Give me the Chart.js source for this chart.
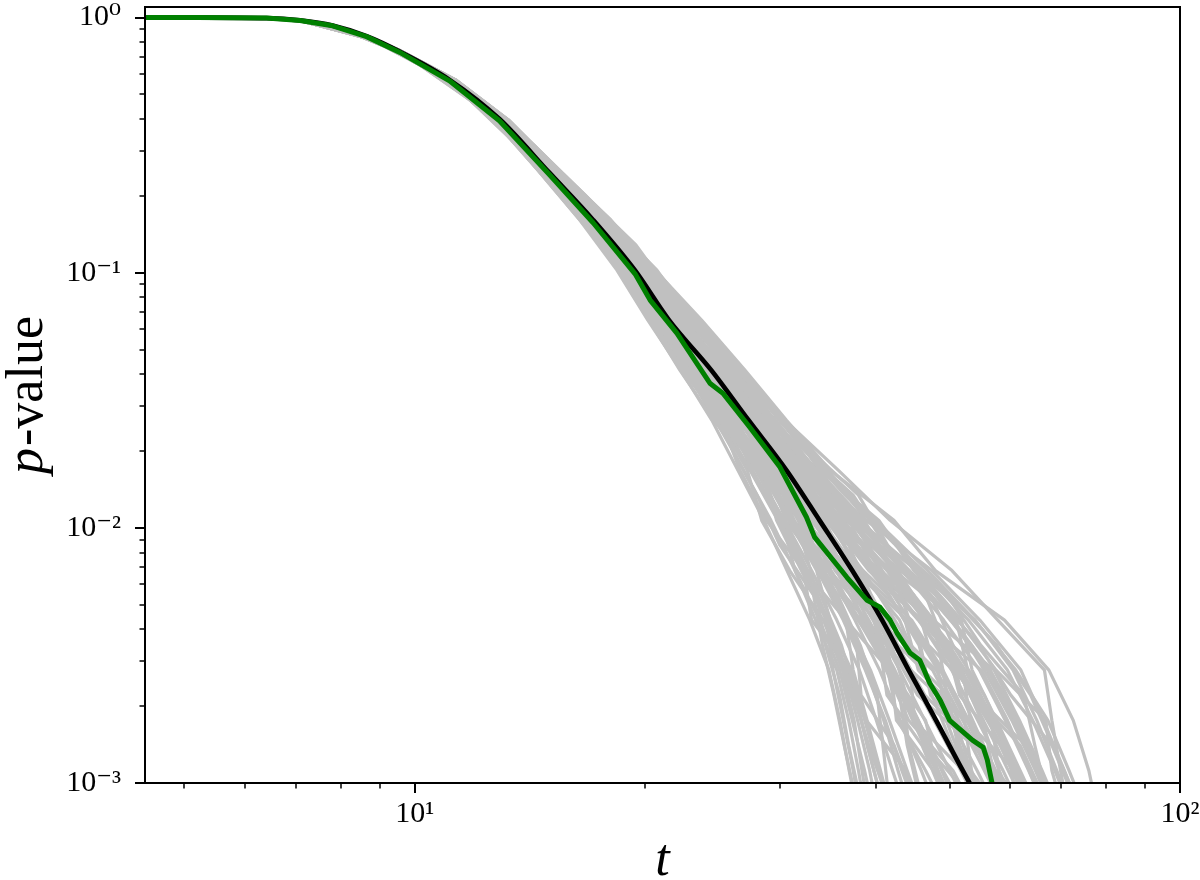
<!DOCTYPE html>
<html>
<head>
<meta charset="utf-8">
<script src="https://cdn.jsdelivr.net/npm/chart.js@4.4.1/dist/chart.umd.min.js"></script>
<style>
html,body{margin:0;padding:0;background:#fff;}
#wrap{width:1200px;height:880px;position:relative;}
</style>
</head>
<body>
<div id="wrap"><canvas id="c"></canvas></div>
<script>
// ---- axis ticks & labels ----
const xMajorTicks = [10, 100];
const xTickLabels = ['10\u00B9', '10\u00B2'];
const xMinorTicks = [5, 6, 7, 8, 9, 20, 30, 40, 50, 60, 70, 80, 90];
const yMajorTicks = [0.001, 0.01, 0.1, 1];
const yTickLabels = ['10\u207B\u00B3', '10\u207B\u00B2', '10\u207B\u00B9', '10\u2070'];
const yMinorTicks = [0.002,0.003,0.004,0.005,0.006,0.007,0.008,0.009,
                     0.02,0.03,0.04,0.05,0.06,0.07,0.08,0.09,
                     0.2,0.3,0.4,0.5,0.6,0.7,0.8,0.9];
const xTitle = 't';
const yTitleItalic = 'p';
const yTitleRest = '-value';

// ---- theoretical curve (black) ----
const blackT = [4.4, 5.2, 6.4, 7.08, 7.81, 8.65, 9.56, 11.1, 12.9, 15.0, 17.1, 19.4, 21.5, 24.4, 27.3, 30.6, 33.8, 37.3, 40.8, 44.2, 48.0, 52.0, 54.6];
const blackP = [1.0, 0.9995, 0.995, 0.975, 0.93, 0.845, 0.735, 0.57, 0.40, 0.246, 0.161, 0.102, 0.065, 0.0415, 0.0264, 0.0168, 0.0107, 0.0068, 0.00435, 0.00277, 0.00176, 0.00112, 0.00086];

// ---- highlighted realisation (green) ----
const greenT = [4.4, 5.2, 6.4, 7.08, 7.81, 8.65, 9.56, 11.1, 12.9, 15.0, 17.1, 19.4, 20.3, 22.0, 24.3, 25.27, 27.4, 30.0, 32.5, 33.3, 36.7, 39.0, 40.5, 41.8, 42.7, 44.4, 45.7, 47.1, 48.6, 50.0, 53.6, 55.3, 56.0, 56.8, 57.2];
const greenP = [1.0, 0.9995, 0.995, 0.974, 0.928, 0.842, 0.73, 0.565, 0.394, 0.242, 0.157, 0.099, 0.0781, 0.058, 0.0369, 0.0337, 0.0248, 0.0173, 0.0110, 0.0092, 0.0064, 0.0052, 0.0049, 0.00435, 0.00386, 0.00323, 0.00303, 0.00246, 0.00211, 0.00176, 0.00147, 0.00138, 0.00123, 0.001, 0.00085];

// ---- simulated realisations (grey), group A: p-levels shared, t per run ----
const grayLevelsA = [1.0, 0.995, 0.975, 0.895, 0.747, 0.57, 0.397, 0.2525, 0.161, 0.1024, 0.0652, 0.0415, 0.0264, 0.0168, 0.0107, 0.0068, 0.00435, 0.00277, 0.00176, 0.00112, 0.00085];
const grayRunsA = [
 [4.4,6.4,7.08, 8.08,9.37,10.98,12.68,14.48, 16.43,18.37,20.16,22.27,24.45,26.44,28.59,30.65,32.83,34.77,35.93,36.95,37.62],
 [4.4,6.4,7.08, 8.08,9.38,10.99,12.70,14.52, 16.60,18.45,20.50,22.35,25.13,26.6,28.8,32.22,33.0,37.0,38.72,40.4,41.48],
 [4.4,6.4,7.08, 8.11,9.41,11.04,12.80,14.68, 16.76,18.62,20.55,22.78,25.2,27.43,29.82,32.4,34.71,37.2,38.9,43.86,45.34],
 [4.4,6.4,7.08, 8.08,9.37,10.98,12.68,14.50, 16.48,18.66,20.84,22.85,25.81,28.42,30.0,32.3,36.59,37.4,39.0,40.6,41.6],
 [4.4,6.4,7.08, 8.11,9.41,11.04,12.80,14.70, 16.92,18.87,20.9,23.30,25.13,28.5,31.06,33.80,36.7,39.4,41.7,44.0,45.5],
 [4.4,6.4,7.08, 8.11,9.42,11.05,12.82,14.70, 16.8,18.9,21.19,23.83,25.9,28.42,32.40,34.0,36.59,41.72,44.74,47.95,49.98],
 [4.4,6.4,7.08, 8.09,9.38,10.99,12.70,14.55, 16.62,18.84,20.8,23.9,26.53,29.48,31.2,35.53,38.68,41.9,42.6,47.6,49.6],
 [4.4,6.4,7.08, 8.12,9.43,11.06,12.84,14.74, 16.95,19.13,21.25,23.4,26.6,29.6,32.6,35.7,40.77,42.0,44.9,52.05,54.63],
 [4.4,6.4,7.08, 8.13,9.45,11.10,12.90,14.86, 17.05,19.1,21.15,24.3,26.45,30.4,32.3,37.1,38.9,44.0,47.7,51.8,54.4],
 [4.4,6.4,7.08, 8.12,9.43,11.07,12.86,14.78, 16.9,19.45,21.6,23.75,27.35,29.4,33.9,35.4,40.9,44.5,52.28,53.4,55.3],
 [4.4,6.4,7.08, 8.14,9.46,11.12,12.93,14.90, 17.12,19.35,22.03,24.45,27.15,30.7,33.6,37.45,44.01,48.29,49.5,52.4,55.0],
 [4.4,6.4,7.08, 8.15,9.48,11.18,13.04,15.05, 17.32,19.5,21.7,24.97,28.01,30.9,35.33,37.6,41.2,48.0,52.0,56.46,59.06],
 [4.4,6.4,7.08, 8.14,9.47,11.14,12.96,14.95, 17.15,19.71,22.1,25.05,27.5,31.54,35.5,39.65,43.7,45.5,52.6,56.8,59.5],
 [4.4,6.4,7.08, 8.15,9.49,11.20,13.08,15.12, 17.3,19.75,22.53,24.9,28.77,31.4,35.2,42.03,44.3,48.6,52.5,60.87,63.49],
 [4.4,6.4,7.08, 8.16,9.50,11.22,13.10,15.18, 17.56,19.68,21.98,25.57,28.1,32.54,36.93,39.9,47.25,52.35,56.6,58.0,59.8],
 [4.4,6.4,7.08, 8.15,9.49,11.21,13.09,15.15, 17.36,20.04,22.45,25.5,28.6,32.3,35.6,41.7,46.8,51.8,56.2,60.4,63.0],
 [4.4,6.4,7.08, 8.16,9.51,11.24,13.14,15.25, 17.6,20.1,23.05,25.65,29.57,32.7,37.1,42.3,51.0,52.8,57.0,61.3,64.0],
 [4.4,6.4,7.08, 8.17,9.52,11.28,13.20,15.35, 17.8,19.98,22.6,26.2,28.9,33.6,38.67,42.2,47.6,57.15,61.69,66.02,68.64],
 [4.4,6.4,7.08, 8.16,9.50,11.23,13.12,15.20, 17.52,20.38,22.95,26.1,29.4,33.4,38.3,44.3,50.5,56.5,61.2,65.5,68.0],
 [4.4,6.4,7.08, 8.18,9.53,11.31,13.26,15.43, 18.04,20.45,23.57,26.3,30.37,33.8,40.41,44.9,51.3,57.5,66.78,68.0,69.8],
 [4.4,6.4,7.08, 8.17,9.52,11.29,13.23,15.38, 17.85,20.72,23.1,26.83,30.2,34.66,38.9,47.41,54.75,61.95,66.3,70.6,73.2],
 [4.4,6.4,7.08, 8.18,9.53,11.30,13.25,15.40, 18.0,20.65,23.45,26.7,30.5,34.4,40.0,46.8,53.9,61.0,67.2,71.6,74.3],
 [4.4,6.4,7.08, 8.17,9.52,11.30,13.24,15.40, 17.75,20.6,23.7,27.0,30.6,34.9,42.28,47.9,58.97,67.4,72.53,76.0,77.5],
 [4.4,6.4,7.08, 8.16,9.50,11.22,13.12,15.20, 17.6,20.3,23.5,26.9,30.45,35.78,41.8,50.35,57.8,66.5,68.0,69.8,71.0],
 [4.4,6.4,7.08, 8.11,9.41,11.05,12.81,14.70, 16.78,19.18,21.48,25.1,28.2,32.4,36.6,44.0,50.2,56.0,60.8,65.0,67.6],
 [4.4,6.4,7.08, 8.15,9.49,11.20,13.07,15.12, 17.5,19.6,21.4,23.7,26.4,28.3,30.8,33.5,34.9,36.6,38.3,39.8,40.8],
 [4.4,6.4,7.08, 8.13,9.44,11.09,12.88,14.83, 17.0,19.28,21.1,23.95,25.7,28.6,29.7,32.0,34.5,35.2,36.3,37.4,38.0],
 [4.4,6.4,7.08, 8.14,9.46,11.13,12.95,14.92, 17.18,19.62,21.8,24.6,27.9,31.7,36.3,41.4,46.3,51.2,55.3,57.0,58.5],
 [4.4,6.4,7.08, 8.12,9.42,11.06,12.83,14.75, 16.88,19.05,21.35,24.2,27.0,29.3,32.1,33.6,36.3,38.8,41.2,43.3,44.8],
 [4.4,6.4,7.08, 8.15,9.49,11.21,13.10,15.16, 17.4,19.8,22.15,25.7,29.0,33.3,38.0,45.3,54.0,60.5,65.0,69.0,71.5],
 [4.4,6.4,7.08, 8.11,9.40,11.03,12.79,14.66, 16.85,18.8,20.7,22.6,25.0,27.2,28.4,30.9,34.2,36.2,37.5,38.4,39.0],
 [4.4,6.4,7.08, 8.15,9.48,11.19,13.06,15.10, 17.28,19.95,22.2,25.2,27.6,30.95,34.2,36.0,39.2,42.4,45.5,48.8,50.8],
 [4.4,6.4,7.08, 8.10,9.40,11.03,12.78,14.65, 16.72,18.95,20.6,23.2,25.65,29.2,32.0,36.8,40.3,47.5,51.4,55.5,58.0],
 [4.4,6.4,7.08, 8.17,9.51,11.27,13.20,15.33, 17.7,20.25,22.4,25.4,27.8,31.2,34.0,37.9,44.6,49.0,50.2,53.0,55.7],
 [4.4,6.4,7.08, 8.13,9.45,11.10,12.89,14.85, 17.02,19.0,20.95,23.5,26.7,29.8,33.3,36.5,38.4,41.3,44.2,50.5,53.0],
 [4.4,6.4,7.08, 8.16,9.50,11.22,13.11,15.18, 17.45,19.9,22.3,24.8,28.3,31.9,37.4,45.5,51.8,53.5,57.6,61.8,64.5],
 [4.4,6.4,7.08, 8.09,9.38,10.99,12.70,14.52, 16.55,18.55,20.25,22.2,24.6,27.6,30.2,31.4,33.4,35.6,36.9,38.0,38.6],
 [4.4,6.4,7.08, 8.15,9.48,11.19,13.05,15.10, 17.25,19.3,21.05,23.65,26.75,30.3,34.9,39.2,46.0,55.0,59.5,63.5,66.0],
 [4.4,6.4,7.08, 8.13,9.45,11.11,12.92,14.87, 17.07,19.42,21.6,23.9,26.6,30.3,33.9,35.8,40.5,44.4,45.0,48.3,50.3],
 [4.4,6.4,7.08, 8.15,9.49,11.20,13.08,15.14, 17.3,19.75,21.7,24.5,28.1,32.6,35.7,40.2,46.9,52.0,53.2,56.2,60.0],
 [4.4,6.4,7.08, 8.12,9.42,11.05,12.82,14.72, 16.9,19.1,21.2,23.85,25.95,29.55,31.3,34.1,38.9,41.9,46.5,48.2,50.0],
 [4.4,6.4,7.08, 8.16,9.50,11.23,13.12,15.18, 17.6,20.4,23.0,25.6,29.6,33.5,38.5,42.4,47.6,49.0,52.9,56.0,57.5]
];

// ---- simulated realisations (grey), group B: p-levels between those of group A ----
const grayLevelsB = [1.0, 0.995, 0.975, 0.818, 0.652, 0.476, 0.3167, 0.2017, 0.1284, 0.0818, 0.0521, 0.0331, 0.0211, 0.01343, 0.00855, 0.00545, 0.00347, 0.00221, 0.001406, 0.000895];
const grayRunsB = [
 [4.4,6.4,7.08, 8.79,10.15,11.80,13.59,15.43, 17.5,19.55,21.9,23.65,25.8,28.0,30.0,33.2,34.1,35.3,36.4,37.6],
 [4.4,6.4,7.08, 8.80,10.16,11.82,13.62,15.50, 17.68,19.72,22.0,24.2,26.5,29.7,31.4,33.9,36.1,37.7,39.0,40.6],
 [4.4,6.4,7.08, 8.82,10.20,11.89,13.73,15.69, 17.82,19.8,22.3,24.6,26.6,28.7,32.3,35.4,37.8,38.3,42.3,44.8],
 [4.4,6.4,7.08, 8.82,10.20,11.89,13.73,15.69, 17.9,19.95,22.55,24.75,27.1,30.7,33.7,36.0,40.0,43.0,44.0,45.6],
 [4.4,6.4,7.08, 8.82,10.21,11.90,13.75,15.72, 18.0,20.18,22.35,25.1,27.9,30.0,32.7,37.1,40.5,41.4,46.0,49.0],
 [4.4,6.4,7.08, 8.84,10.24,11.97,13.86,15.92, 18.1,20.4,22.7,25.35,28.8,31.1,34.1,39.0,40.6,43.6,46.7,49.8],
 [4.4,6.4,7.08, 8.84,10.24,11.98,13.88,15.95, 18.22,20.28,22.9,25.7,28.2,31.8,35.1,37.6,42.3,45.9,49.7,53.7],
 [4.4,6.4,7.08, 8.85,10.25,11.99,13.90,15.98, 18.3,20.52,23.0,26.4,29.0,32.1,36.9,39.5,42.8,49.8,51.2,54.5],
 [4.4,6.4,7.08, 8.87,10.30,12.10,14.09,16.32, 18.5,20.6,23.35,25.95,29.6,33.1,35.6,41.6,45.8,47.2,54.2,58.3],
 [4.4,6.4,7.08, 8.84,10.24,11.98,13.88,15.95, 18.18,20.8,23.5,26.6,29.85,32.3,37.3,42.2,46.5,50.9,55.0,59.2],
 [4.4,6.4,7.08, 8.87,10.30,12.10,14.09,16.32, 18.6,20.9,23.8,26.35,29.5,34.5,37.0,44.2,49.5,51.5,58.2,62.4],
 [4.4,6.4,7.08, 8.87,10.31,12.12,14.12,16.38, 18.78,20.95,23.6,27.0,30.3,33.5,38.7,44.9,46.9,54.3,59.0,63.3],
 [4.4,6.4,7.08, 8.87,10.30,12.11,14.10,16.35, 18.86,21.15,23.95,27.3,29.9,34.9,39.2,42.4,49.3,54.0,62.8,67.3],
 [4.4,6.4,7.08, 8.89,10.35,12.21,14.27,16.63, 19.05,21.3,24.3,27.4,31.1,35.9,39.4,47.0,53.4,59.0,63.0,67.6],
 [4.4,6.4,7.08, 8.89,10.36,12.22,14.28,16.66, 19.15,21.55,24.45,27.7,31.5,35.0,40.6,48.0,54.6,60.1,68.0,72.4],
 [4.4,6.4,7.08, 8.89,10.36,12.23,14.30,16.69, 19.3,21.9,24.6,28.4,31.9,36.5,42.5,50.0,57.6,63.8,68.2,72.9],
 [4.4,6.4,7.08, 8.88,10.35,12.22,14.28,16.65, 19.45,21.7,24.8,28.7,31.7,37.4,41.2,49.6,54.9,62.5,64.6,67.0],
 [4.4,6.4,7.08, 8.82,10.20,11.89,13.73,15.69, 17.88,20.25,22.85,25.9,29.7,33.4,37.2,44.3,49.9,54.9,58.9,62.5],
 [4.4,6.4,7.08, 8.87,10.30,12.10,14.09,16.32, 18.7,20.7,23.05,25.6,27.95,30.8,32.6,35.7,38.2,40.2,40.9,41.6],
 [4.4,6.4,7.08, 8.82,10.20,11.89,13.73,15.69, 17.98,20.05,22.2,24.05,27.35,29.95,31.0,33.5,34.4,35.9,36.9,38.1],
 [4.4,6.4,7.08, 8.87,10.30,12.11,14.10,16.34, 18.56,21.28,23.85,27.95,31.2,36.0,39.0,44.4,50.2,51.8,55.4,59.5],
 [4.4,6.4,7.08, 8.84,10.24,11.98,13.87,15.93, 18.24,20.44,22.65,25.3,28.15,31.7,35.5,39.4,40.9,43.5,44.2,45.9],
 [4.4,6.4,7.08, 8.83,10.22,11.93,13.80,15.80, 18.08,20.3,23.1,26.3,29.1,33.0,35.4,39.1,42.0,43.9,46.5,53.0],
 [4.4,6.4,7.08, 8.86,10.28,12.06,14.02,16.20, 18.45,20.75,23.3,26.55,30.6,34.6,40.5,47.2,50.5,55.5,59.4,61.0],
 [4.4,6.4,7.08, 8.80,10.16,11.82,13.62,15.48, 17.6,19.9,22.4,25.15,28.0,31.0,34.0,37.5,42.7,46.4,54.0,58.0],
 [4.4,6.4,7.08, 8.88,10.34,12.18,14.22,16.55, 19.0,21.85,24.7,27.6,30.4,34.4,37.0,41.7,45.6,47.4,50.4,54.8],
 [4.4,6.4,7.08, 8.84,10.24,11.98,13.88,15.94, 18.28,20.5,22.8,25.55,27.8,29.6,32.2,33.6,35.6,37.4,39.2,41.3],
 [4.4,6.4,7.08, 8.82,10.21,11.90,13.75,15.72, 18.02,20.15,22.5,25.75,29.2,32.4,37.6,42.6,49.0,53.6,61.8,66.2],
 [4.4,6.4,7.08, 8.85,10.26,12.01,13.93,16.03, 18.4,20.35,22.75,25.4,28.3,31.3,34.8,38.7,41.7,45.4,53.6,61.3],
 [4.4,6.4,7.08, 8.87,10.31,12.12,14.12,16.38, 18.9,21.45,24.2,28.0,32.3,38.0,41.5,46.5,49.3,53.2,57.5,61.8]
];

// ---- simulated realisations (grey), group C: same p-levels as group A ----
const grayRunsC = [
 [4.4,6.4,7.08, 8.08,9.38,10.99,12.69,14.50, 16.52,18.50,20.33,22.52,24.8,26.9,29.2,31.4,33.8,35.9,37.3,38.7,39.5],
 [4.4,6.4,7.08, 8.10,9.40,11.03,12.78,14.66, 16.68,18.75,20.67,23.05,25.5,27.9,30.4,33.0,35.6,38.1,40.1,42.1,43.4],
 [4.4,6.4,7.08, 8.11,9.41,11.05,12.81,14.70, 16.84,19.0,21.0,23.55,26.2,28.95,31.7,34.7,37.6,40.5,43.1,45.9,47.6],
 [4.4,6.4,7.08, 8.13,9.44,11.10,12.90,14.86, 17.0,19.26,21.36,24.1,26.9,30.0,33.1,36.4,39.7,43.0,46.4,50.0,52.3],
 [4.4,6.4,7.08, 8.14,9.46,11.13,12.94,14.91, 17.2,19.55,21.8,24.67,27.63,31.05,34.5,38.5,42.4,46.3,50.1,54.3,56.8],
 [4.4,6.4,7.08, 8.15,9.48,11.19,13.06,15.11, 17.44,19.88,22.28,25.27,28.4,32.0,36.1,40.8,45.6,50.3,54.4,58.7,61.3],
 [4.4,6.4,7.08, 8.16,9.50,11.22,13.11,15.17, 17.68,20.2,22.8,25.9,29.2,33.1,37.8,43.4,49.1,54.7,59.1,63.4,66.0],
 [4.4,6.4,7.08, 8.17,9.52,11.29,13.23,15.39, 17.92,20.55,23.3,26.5,30.0,34.1,39.5,46.0,52.9,59.5,64.2,68.6,71.2],
 [4.4,6.4,7.08, 8.13,9.45,11.11,12.91,14.88, 17.0,19.3,21.5,24.6,27.6,31.0,35.0,40.0,45.5,51.0,56.0,61.0,64.0],
 [4.4,6.4,7.08, 8.15,9.49,11.20,13.08,15.13, 17.45,19.85,22.1,24.7,27.0,29.6,32.0,34.3,36.8,39.0,41.0,42.8,44.0],
 [4.4,6.4,7.08, 8.11,9.42,11.05,12.82,14.72, 16.85,19.05,21.25,23.7,26.0,29.2,32.8,35.0,38.0,41.5,42.8,46.5,48.7],
 [4.4,6.4,7.08, 8.13,9.46,11.12,12.93,14.90, 17.22,19.5,21.95,24.5,27.8,30.7,34.8,38.0,43.0,45.8,51.0,53.2,57.0],
 [4.4,6.4,7.08, 8.17,9.52,11.28,13.22,15.36, 17.7,20.1,22.9,25.8,29.0,32.9,37.2,42.8,47.0,51.5,55.0,58.0,60.5],
 [4.4,6.4,7.08, 8.10,9.40,11.03,12.79,14.67, 16.7,18.8,20.8,23.1,25.6,28.2,31.2,34.6,38.2,42.0,45.5,49.0,51.5],
 [4.4,6.4,7.08, 8.17,9.53,11.30,13.25,15.41, 17.9,20.6,23.25,26.6,29.9,34.3,39.8,45.6,50.5,55.5,60.3,64.7,67.3],
 [4.4,6.4,7.08, 8.13,9.45,11.11,12.91,14.88, 17.1,19.4,21.4,23.6,26.0,28.0,30.3,32.4,34.5,36.4,37.9,39.3,40.0]
];

// ---- styling ----
const FONT = '"Liberation Serif", "Times New Roman", "DejaVu Serif", serif';
const GRAY = '#c0c0c0';
const GREEN = '#008000';

function labelFor(v, majors, labels) {
  const i = majors.findIndex(m => Math.abs(Math.log10(m) - Math.log10(v)) < 1e-6);
  return i >= 0 ? labels[i] : '';
}

const datasets = [];
datasets.push({
  label: 'observed',
  data: greenT.map((t, i) => ({x: t, y: greenP[i]})),
  borderColor: GREEN, borderWidth: 5, pointRadius: 0, tension: 0,
  borderJoinStyle: 'round', order: 0, clip: 0
});
datasets.push({
  label: 'theory',
  data: blackT.map((t, i) => ({x: t, y: blackP[i]})),
  borderColor: '#000000', borderWidth: 4.7, pointRadius: 0,
  cubicInterpolationMode: 'monotone', borderJoinStyle: 'round', order: 1, clip: 0
});
function addGray(runs, levels, tag) {
  runs.forEach((run, k) => {
    datasets.push({
      label: 'sim ' + tag + (k + 1),
      data: run.map((t, i) => ({x: t, y: levels[i]})),
      borderColor: GRAY, borderWidth: 3.2, pointRadius: 0, tension: 0,
      borderJoinStyle: 'round', order: 2, clip: 0
    });
  });
}
addGray(grayRunsA, grayLevelsA, 'A');
addGray(grayRunsB, grayLevelsB, 'B');
addGray(grayRunsC, grayLevelsA, 'C');

const framePlugin = {
  id: 'framePlugin',
  afterDraw(chart) {
    const {ctx, chartArea: a, scales: {x, y}} = chart;
    ctx.save();
    ctx.strokeStyle = '#000';
    ctx.lineCap = 'butt';
    const drawX = (vals, len, w) => {
      ctx.lineWidth = w;
      vals.forEach(v => {
        const p = Math.round(x.getPixelForValue(v));
        ctx.beginPath(); ctx.moveTo(p, a.bottom); ctx.lineTo(p, a.bottom + len); ctx.stroke();
      });
    };
    const drawY = (vals, len, w) => {
      ctx.lineWidth = w;
      vals.forEach(v => {
        const p = Math.round(y.getPixelForValue(v));
        ctx.beginPath(); ctx.moveTo(a.left, p); ctx.lineTo(a.left - len, p); ctx.stroke();
      });
    };
    drawX(xMajorTicks, 10, 2); drawX(xMinorTicks, 5.5, 1.5);
    drawY(yMajorTicks, 10, 2); drawY(yMinorTicks, 5.5, 1.5);
    ctx.lineWidth = 2;
    ctx.strokeRect(a.left, a.top, a.right - a.left, a.bottom - a.top);
    // y axis title: italic p followed by "-value", rotated
    const size = 52;
    ctx.translate(42, (a.top + a.bottom) / 2);
    ctx.rotate(-Math.PI / 2);
    ctx.fillStyle = '#000';
    ctx.textBaseline = 'alphabetic';
    ctx.textAlign = 'left';
    ctx.font = 'italic ' + size + 'px ' + FONT;
    const w1 = ctx.measureText(yTitleItalic).width;
    ctx.font = size + 'px ' + FONT;
    const w2 = ctx.measureText(yTitleRest).width;
    const sx = -(w1 + w2 + 2) / 2;
    ctx.font = 'italic ' + size + 'px ' + FONT;
    ctx.fillText(yTitleItalic, sx, 0);
    ctx.font = size + 'px ' + FONT;
    ctx.fillText(yTitleRest, sx + w1 + 2, 0);
    ctx.restore();
  }
};

new Chart(document.getElementById('c'), {
  type: 'line',
  data: {datasets},
  options: {
    responsive: true,
    maintainAspectRatio: false,
    animation: false,
    devicePixelRatio: 1,
    normalized: true,
    layout: {padding: {top: 7, right: 20, left: 0, bottom: 0}},
    plugins: {legend: {display: false}, tooltip: {enabled: false}, title: {display: false}},
    elements: {line: {borderCapStyle: 'butt'}},
    scales: {
      x: {
        type: 'logarithmic', min: 4.44, max: 100,
        afterBuildTicks: s => { s.ticks = xMajorTicks.map(v => ({value: v, major: true})); },
        afterFit: s => { s.height = 97; s.paddingLeft = 0; s.paddingRight = 0; },
        grid: {display: false, drawTicks: false},
        border: {display: false},
        ticks: {
          autoSkip: false, maxRotation: 0, minRotation: 0, padding: 13, color: '#000',
          font: {family: FONT, size: 30},
          callback: v => labelFor(v, xMajorTicks, xTickLabels)
        },
        title: {
          display: true, text: xTitle, color: '#000', padding: 0,
          font: {family: FONT, size: 52, style: 'italic', lineHeight: 0.72}
        }
      },
      y: {
        type: 'logarithmic', min: 0.001, max: 1.1,
        afterBuildTicks: s => { s.ticks = yMajorTicks.map(v => ({value: v, major: true})); },
        afterFit: s => { s.width = 145; s.paddingTop = 0; s.paddingBottom = 0; },
        grid: {display: false, drawTicks: false},
        border: {display: false},
        ticks: {
          autoSkip: false, padding: 24, color: '#000',
          font: {family: FONT, size: 30},
          callback: v => labelFor(v, yMajorTicks, yTickLabels)
        },
        title: {display: false}
      }
    }
  },
  plugins: [framePlugin]
});
</script>
</body>
</html>
